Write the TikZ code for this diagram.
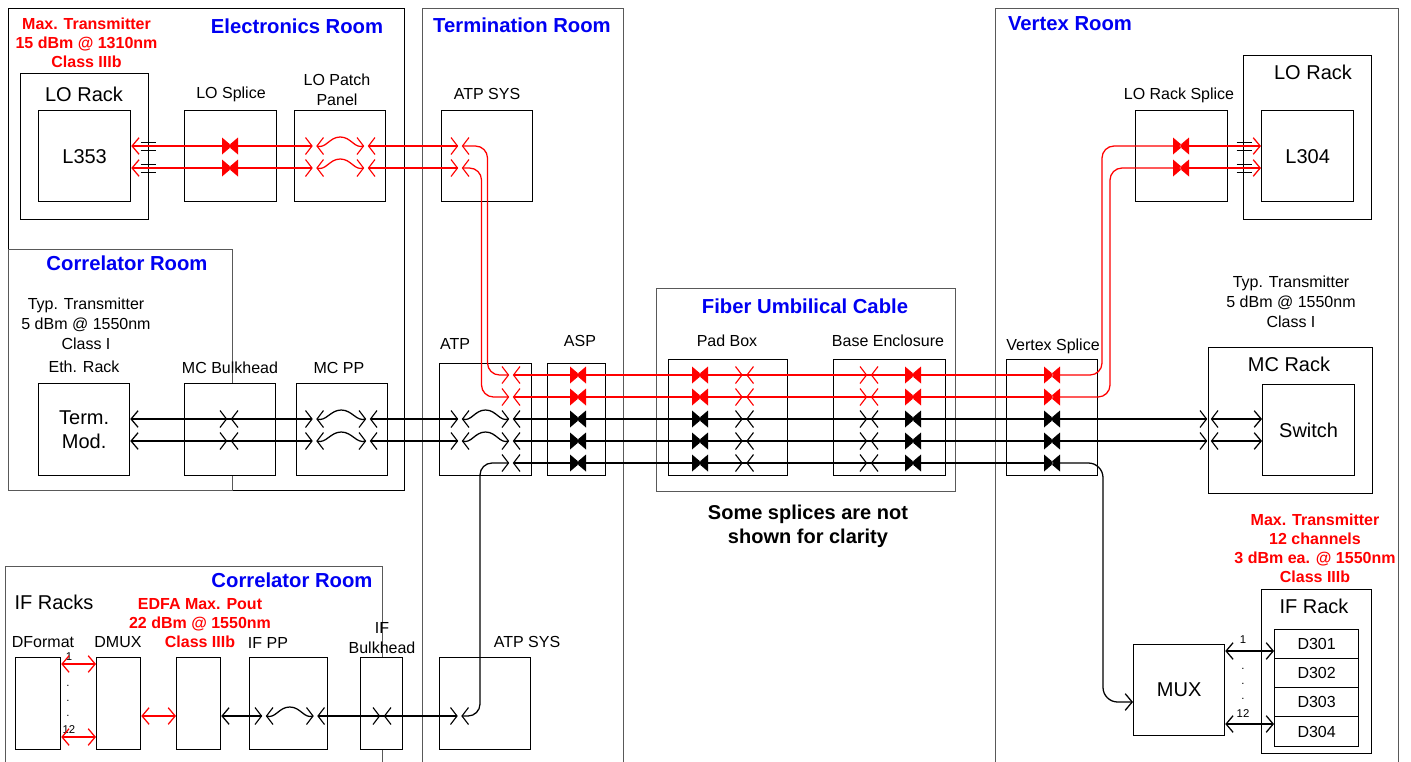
\documentclass[tikz,border=0pt]{standalone}
\usepackage{fontspec}
\setmainfont{Liberation Sans}
\usepackage{tikz}
\usetikzlibrary{arrows.meta,calc}
\newcommand{\px}{0.75pt}

\begin{document}
\begin{tikzpicture}[
  x=0.75pt, y=-0.75pt,
  >={Straight Barb[length=5.25pt,width=12.5pt]},
  room/.style 2 args={draw=black!65, line width=0.55pt, anchor=north west, inner sep=0,
               minimum width=#1*\px, minimum height=#2*\px},
  box/.style 2 args={draw, line width=0.95pt, fill=white, anchor=north west, inner sep=0,
               minimum width=#1*\px, minimum height=#2*\px, align=center},
  roomlabel/.style={text=blue!95!black, font=\fontsize{15.2}{18}\selectfont\bfseries},
  warn/.style={text=red, align=center, font=\fontsize{12}{14.25}\selectfont\bfseries},
  lbl/.style={align=center, font=\fontsize{12}{14.8}\selectfont},
  biglbl/.style={align=center, font=\fontsize{15}{18}\selectfont},
  tiny/.style={align=center, inner sep=0, font=\fontsize{8.5}{11.2}\selectfont},
  fiber/.style={line width=0.95pt},
  redfiber/.style={line width=0.95pt, red},
  jumper/.style={to path={.. controls +(9,3) and +(-11,0) .. ($(\tikztostart)!0.5!(\tikztotarget)+(0,-9)$)
                 .. controls +(11,0) and +(-9,3) .. (\tikztotarget)}},
  jack/.style={inner sep=0, outer sep=0, minimum width=5*\px, minimum height=16*\px,
               append after command={\pgfextra{\draw[#1, line width=0.85pt]
                 ([shift={(-6.5,-8.5)}]\tikzlastnode.west) -- (\tikzlastnode.west) -- ([shift={(-6.5,8.5)}]\tikzlastnode.west)
                 ([shift={(6.5,-8.5)}]\tikzlastnode.east) -- (\tikzlastnode.east) -- ([shift={(6.5,8.5)}]\tikzlastnode.east);}}},
  jack/.default=black,
  splice/.style={inner sep=0, outer sep=0, minimum width=16*\px, minimum height=17*\px,
               path picture={\fill[#1] (path picture bounding box.north west)
                 -- ([xshift=1.5pt]path picture bounding box.center) -- (path picture bounding box.south west) -- cycle
                 (path picture bounding box.north east)
                 -- ([xshift=-1.5pt]path picture bounding box.center) -- (path picture bounding box.south east) -- cycle;}},
  splice/.default=black,
  ferrule/.style={inner sep=0, outer sep=0, minimum width=15*\px, minimum height=8*\px,
               append after command={\pgfextra{\draw[line width=0.7pt]
                 (\tikzlastnode.north west) -- (\tikzlastnode.north east)
                 (\tikzlastnode.south west) -- (\tikzlastnode.south east);}}},
  ]
  \useasboundingbox (0,0) rectangle (1411,761);

  \node[room={396}{482}, draw=black, line width=0.75pt] (elec) at (8,8) {};
  \node[room={224}{241}] (corr) at (8,249) {};
  \node[room={201}{770}] (term) at (422,8) {};
  \node[room={403}{770}] (vert) at (995,8) {};
  \node[room={299}{203}] (umb) at (656,288) {};
  \node[room={377}{210}] (corrif) at (5,566) {};

  \node[roomlabel] (elect) at (297,26) {Electronics Room};
  \node[roomlabel] (termt) at (522,25) {Termination Room};
  \node[roomlabel] (vertt) at (1070,24) {Vertex Room};
  \node[roomlabel] (corrt) at (127,263) {Correlator Room};
  \node[roomlabel] (umbt) at (805,306) {Fiber Umbilical Cable};
  \node[roomlabel] (corrift) at (292,580) {Correlator Room};

  \node[box={128}{146}] (lorack) at (20,73) {};
  \node[box={92}{91}, biglbl] (l353) at (38,110) {L353};
  \node[box={92}{91}] (losplice) at (184,110) {};
  \node[box={91}{91}] (lopanel) at (294,110) {};
  \node[box={91}{91}] (atpsys) at (441,110) {};
  \node[box={128}{164}] (lorackr) at (1243,55) {};
  \node[box={92}{91}, biglbl] (l304) at (1261,110) {L304};
  \node[box={92}{91}] (lorsplice) at (1135,110) {};

  \node[box={91}{92}, biglbl] (tmod) at (38,383) {Term.\\Mod.};
  \node[box={91}{92}] (mcbulk) at (184,383) {};
  \node[box={91}{92}] (mcpp) at (296,383) {};
  \node[box={92}{112}] (atp) at (439,363) {};
  \node[box={58}{112}] (asp) at (547,363) {};
  \node[box={119}{116}] (padbox) at (668,359) {};
  \node[box={112}{116}] (base) at (833,359) {};
  \node[box={91}{116}] (vsplice) at (1006,359) {};
  \node[box={164}{146}] (mcrack) at (1208,347) {};
  \node[box={92}{91}, biglbl] (switch) at (1262,384) {Switch};

  \node[box={45}{92}] (dformat) at (15,657) {};
  \node[box={44}{92}] (dmux) at (96,657) {};
  \node[box={44}{92}] (edfa) at (176,657) {};
  \node[box={78}{92}] (ifpp) at (249,657) {};
  \node[box={42}{92}] (ifbulk) at (360,657) {};
  \node[box={91}{92}] (atpsysb) at (439,657) {};
  \node[box={91}{91}, biglbl] (mux) at (1133,644) {MUX};
  \node[box={110}{164}] (ifrack) at (1261,589) {};
  \node[box={84}{29}, lbl] (d301) at (1274,629) {D301};
  \node[box={84}{29}, lbl] (d302) at (1274,658) {D302};
  \node[box={84}{29}, lbl] (d303) at (1274,687) {D303};
  \node[box={84}{30}, lbl] (d304) at (1274,716) {D304};

  \node[warn] (maxlo) at (86.5,43) {Max. Transmitter\\15 dBm @ 1310nm\\Class IIIb};
  \node[biglbl] (lorackt) at (84,94) {LO Rack};
  \node[lbl] (losplicet) at (231,94) {LO Splice};
  \node[lbl] (lopanelt) at (337,90) {LO Patch\\Panel};
  \node[lbl] (atpsyst) at (487,94) {ATP SYS};
  \node[lbl] (typl) at (86,324) {Typ. Transmitter\\5 dBm @ 1550nm\\Class I};
  \node[lbl] (ethr) at (84,367) {Eth. Rack};
  \node[lbl] (mcbulkt) at (230,368) {MC Bulkhead};
  \node[lbl] (mcppt) at (339,368) {MC PP};
  \node[lbl] (atpt) at (455,344) {ATP};
  \node[lbl] (aspt) at (580,341) {ASP};
  \node[lbl] (padt) at (727,341) {Pad Box};
  \node[lbl] (baset) at (888,341) {Base Enclosure};
  \node[lbl] (vsplicet) at (1053,346) {Vertex Splice};
  \node[lbl] (lorsplicet) at (1179,95) {LO Rack Splice};
  \node[biglbl] (lorackrt) at (1313,72) {LO Rack};
  \node[lbl] (typr) at (1291,302) {Typ. Transmitter\\5 dBm @ 1550nm\\Class I};
  \node[biglbl] (mcrackt) at (1289,364) {MC Rack};
  \node[align=center, font=\fontsize{15}{18}\selectfont\bfseries] (note) at (808,526) {Some splices are not\\shown for clarity};
  \node[warn] (maxif) at (1315,548) {Max. Transmitter\\12 channels\\3 dBm ea. @ 1550nm\\Class IIIb};
  \node[biglbl] (ifrackt) at (1314,606) {IF Rack};
  \node[biglbl] (ifracks) at (54,602) {IF Racks};
  \node[warn] (edfat) at (200,623) {EDFA Max. Pout\\22 dBm @ 1550nm\\Class IIIb};
  \node[lbl] (dformatt) at (43,642) {DFormat};
  \node[lbl] (dmuxt) at (118,642) {DMUX};
  \node[lbl] (ifppt) at (268,643) {IF PP};
  \node[lbl] (ifbulkt) at (382,638) {IF\\Bulkhead};
  \node[lbl] (atpsysbt) at (527,642) {ATP SYS};
  \node[tiny] (dfone) at (69,657) {1};
  \node[tiny] (dfdots) at (68,701) {.\\.\\.};
  \node[tiny] (dftwelve) at (69,730) {12};
  \node[tiny] (muxone) at (1243,640) {1};
  \node[tiny] (muxdots) at (1243,684) {.\\.\\.};
  \node[tiny] (muxtwelve) at (1243,714) {12};

  \node[splice=red] (lsa) at (230,146) {};
  \node[splice=red] (lsb) at (230,168) {};
  \node[jack=red] (ppa) at (314.5,146) {};
  \node[jack=red] (ppb) at (314.5,168) {};
  \node[jack=red] (qqa) at (366,146) {};
  \node[jack=red] (qqb) at (366,168) {};
  \node[jack=red] (sysa) at (460,146) {};
  \node[jack=red] (sysb) at (460,168) {};
  \node[ferrule] (fa) at (148,146) {};
  \node[ferrule] (fb) at (148,168) {};
  \node[splice=red] (rsa) at (1181,146) {};
  \node[splice=red] (rsb) at (1181,168) {};
  \node[ferrule] (fc) at (1244,146) {};
  \node[ferrule] (fd) at (1244,168) {};

  \node[jack=red] (atpa) at (511,375) {};
  \node[jack=red] (atpb) at (511,397) {};
  \node[jack] (atpc) at (511,419) {};
  \node[jack] (atpd) at (511,441) {};
  \node[jack] (atpe) at (511,463) {};
  \node[jack] (atpf) at (460,419) {};
  \node[jack] (atpg) at (460,441) {};
  \node[jack] (bka) at (229,419) {};
  \node[jack] (bkb) at (229,441) {};
  \node[jack] (mpa) at (314.5,419) {};
  \node[jack] (mpb) at (314.5,441) {};
  \node[jack] (mqa) at (368,419) {};
  \node[jack] (mqb) at (368,441) {};

  \node[splice=red] (aspa) at (578,375) {};
  \node[splice=red] (aspb) at (578,397) {};
  \node[splice] (aspc) at (578,419) {};
  \node[splice] (aspd) at (578,441) {};
  \node[splice] (aspe) at (578,463) {};
  \node[splice=red] (pda) at (700,375) {};
  \node[splice=red] (pdb) at (700,397) {};
  \node[splice] (pdc) at (700,419) {};
  \node[splice] (pdd) at (700,441) {};
  \node[splice] (pde) at (700,463) {};
  \node[jack=red] (pja) at (744.5,375) {};
  \node[jack=red] (pjb) at (744.5,397) {};
  \node[jack] (pjc) at (744.5,419) {};
  \node[jack] (pjd) at (744.5,441) {};
  \node[jack] (pje) at (744.5,463) {};
  \node[jack=red] (bja) at (869,375) {};
  \node[jack=red] (bjb) at (869,397) {};
  \node[jack] (bjc) at (869,419) {};
  \node[jack] (bjd) at (869,441) {};
  \node[jack] (bje) at (869,463) {};
  \node[splice=red] (bsa) at (913,375) {};
  \node[splice=red] (bsb) at (913,397) {};
  \node[splice] (bsc) at (913,419) {};
  \node[splice] (bsd) at (913,441) {};
  \node[splice] (bse) at (913,463) {};
  \node[splice=red] (vsa) at (1052,375) {};
  \node[splice=red] (vsb) at (1052,397) {};
  \node[splice] (vsc) at (1052,419) {};
  \node[splice] (vsd) at (1052,441) {};
  \node[splice] (vse) at (1052,463) {};
  \node[jack] (mca) at (1209,419) {};
  \node[jack] (mcb) at (1209,441) {};

  \node[jack] (ifa) at (264,716) {};
  \node[jack] (ifb) at (315.5,716) {};
  \node[jack] (ifc) at (382,716) {};
  \node[jack] (ifd) at (459.5,716) {};
  \coordinate (muxin) at (1133,702);

  \draw[redfiber,<-] (l353.east |- lsa) -- (ppa.west);
  \draw[redfiber,<-] (l353.east |- lsb) -- (ppb.west);
  \draw[redfiber] (ppa.east) to[jumper] (qqa.west);
  \draw[redfiber] (ppb.east) to[jumper] (qqb.west);
  \draw[redfiber] (qqa.east) -- (sysa.west);
  \draw[redfiber] (qqb.east) -- (sysb.west);
  \draw[redfiber, rounded corners=9pt] (sysa.east) -- ++(25,0) |- (atpa.west);
  \draw[redfiber, rounded corners=9pt] (sysb.east) -- ++(19,0) |- (atpb.west);
  \draw[redfiber] (atpa.east) -- (vsa.center);
  \draw[redfiber] (atpb.east) -- (vsb.center);
  \draw[redfiber, rounded corners=9pt] (vsa.center) -- ++(50,0) |- (rsa.center);
  \draw[redfiber, rounded corners=9pt] (vsb.center) -- ++(58,0) |- (rsb.center);
  \draw[redfiber,->] (rsa.center) -- (l304.west |- rsa);
  \draw[redfiber,->] (rsb.center) -- (l304.west |- rsb);

  \draw[fiber,<-] (tmod.east |- mpa) -- (mpa.west);
  \draw[fiber,<-] (tmod.east |- mpb) -- (mpb.west);
  \draw[fiber] (mpa.east) to[jumper] (mqa.west);
  \draw[fiber] (mpb.east) to[jumper] (mqb.west);
  \draw[fiber] (mqa.east) -- (atpf.west);
  \draw[fiber] (mqb.east) -- (atpg.west);
  \draw[fiber] (atpf.east) to[jumper] (atpc.west);
  \draw[fiber] (atpg.east) to[jumper] (atpd.west);
  \draw[fiber] (atpc.east) -- (mca.west);
  \draw[fiber] (atpd.east) -- (mcb.west);
  \draw[fiber,->] (mca.east) -- (switch.west |- mca);
  \draw[fiber,->] (mcb.east) -- (switch.west |- mcb);
  \draw[fiber] (atpe.east) -- (vse.center);
  \draw[fiber,->, rounded corners=11pt] (vse.center) -- ++(51,0) |- (muxin);
  \draw[fiber, rounded corners=9pt] (ifd.east) -- ++(18,0) |- (atpe.west);

  \draw[redfiber,<->] ($(dformat.east |- dfone)+(0,7)$) -- ($(dmux.west |- dfone)+(0,7)$);
  \draw[redfiber,<->] (dmux.east |- ifa) -- (edfa.west |- ifa);
  \draw[redfiber,<->] ($(dformat.east |- dftwelve)+(0,7)$) -- ($(dmux.west |- dftwelve)+(0,7)$);
  \draw[fiber,<-] (edfa.east |- ifa) -- (ifa.west);
  \draw[fiber] (ifa.east) to[jumper] (ifb.west);
  \draw[fiber] (ifb.east) -- (ifd.west);
  \draw[fiber,<->] ($(mux.east |- muxone)+(0,11)$) -- ($(d301.west |- muxone)+(0,11)$);
  \draw[fiber,<->] ($(mux.east |- muxtwelve)+(0,10)$) -- ($(d304.west |- muxtwelve)+(0,10)$);
\end{tikzpicture}
\end{document}
